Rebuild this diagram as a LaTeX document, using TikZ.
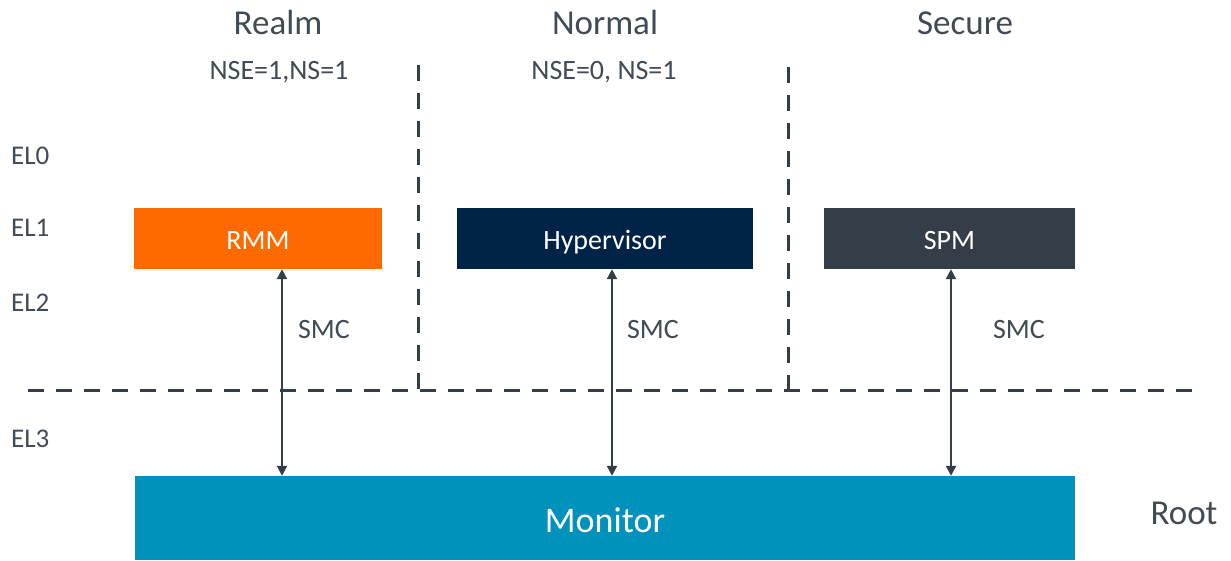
\documentclass[tikz,border=0pt]{standalone}
\usepackage{fontspec}
\setmainfont{Carlito}
\usetikzlibrary{arrows.meta}
\definecolor{txt}{HTML}{404B55}
\definecolor{lin}{HTML}{333E48}
\definecolor{rmmc}{HTML}{FF6A00}
\definecolor{hypc}{HTML}{002347}
\definecolor{spmc}{HTML}{333E48}
\definecolor{monc}{HTML}{0091BD}
\tikzset{
  title/.style={text=txt, font=\fontsize{35}{40}\selectfont, anchor=base, inner sep=0pt},
  small/.style={text=txt, font=\fontsize{28}{32}\selectfont, anchor=base, inner sep=0pt},
  elab/.style={text=txt, font=\fontsize{27}{32}\selectfont, anchor=base west, inner sep=0pt},
  box/.style={draw=none, text=white, font=\fontsize{28}{32}\selectfont, inner sep=0pt, text height=23pt, text depth=0pt},
  divider/.style={draw=lin, line width=3pt, dash pattern=on 16pt off 12pt},
  smc/.style={draw=lin, line width=2.2pt, {Triangle[length=10pt,width=10pt]}-{Triangle[length=10pt,width=10pt]}}
}
\begin{document}
\begin{tikzpicture}[x=1pt,y=-1pt]
\useasboundingbox (0,0) rectangle (1231,561);
% headings
\node[title] (realm) at (278,35) {Realm};
\node[title] (normal) at (605,35) {Normal};
\node[title] (secure) at (965,35) {Secure};
\node[small] (nsr) at (279,80) {NSE=1,NS=1};
\node[small] (nsn) at (604,80) {NSE=0, NS=1};
% EL labels
\node[elab] (el0) at (11,165) {EL0};
\node[elab] (el1) at (11,237) {EL1};
\node[elab] (el2) at (11,311) {EL2};
\node[elab] (el3) at (11,447) {EL3};
% dividers
\coordinate (v1t) at (418,65); \coordinate (v1b) at (418,390);
\coordinate (v2t) at (788,67); \coordinate (v2b) at (788,390);
\coordinate (hl) at (28,390); \coordinate (hr) at (1196,390);
\draw[divider] (v1t) -- (v1b);
\draw[divider] (v2t) -- (v2b);
\draw[divider] (hl) -- (hr);
% boxes
\node[box, fill=rmmc, minimum width=248pt, minimum height=61pt] (rmm) at (258,238.5) {RMM};
\node[box, fill=hypc, minimum width=296pt, minimum height=61pt] (hyp) at (605,238.5) {Hypervisor};
\node[box, fill=spmc, minimum width=251pt, minimum height=61pt] (spm) at (949.5,238.5) {SPM};
\node[box, fill=monc, minimum width=940pt, minimum height=84pt, font=\fontsize{36}{40}\selectfont, text height=28pt] (mon) at (605,518) {Monitor};
\node[title] (root) at (1184,524) {Root};
% arrows
\draw[smc] (rmm.south -| 282,0) -- (mon.north -| 282,0);
\draw[smc] (hyp.south -| 612,0) -- (mon.north -| 612,0);
\draw[smc] (spm.south -| 951,0) -- (mon.north -| 951,0);
\node[small] (s1) at (324,338) {SMC};
\node[small] (s2) at (653,338) {SMC};
\node[small] (s3) at (1019,338) {SMC};
\end{tikzpicture}
\end{document}
